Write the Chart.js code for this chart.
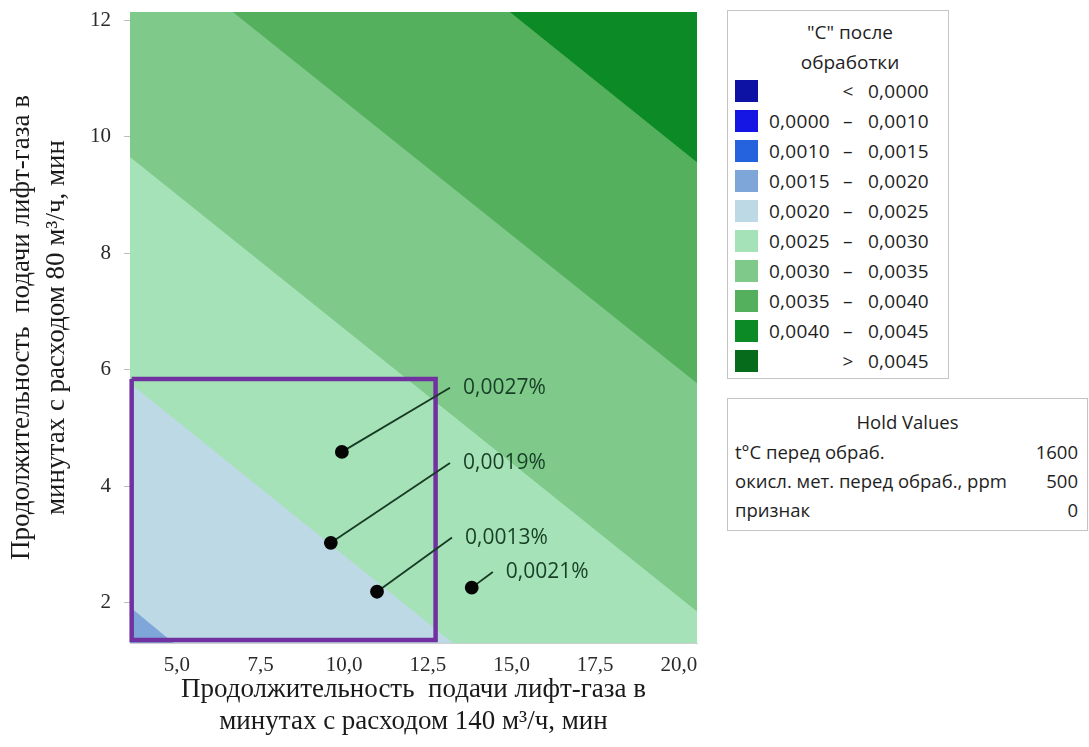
<!DOCTYPE html>
<html>
<head>
<meta charset="utf-8">
<script src="https://cdn.jsdelivr.net/npm/chart.js@4/dist/chart.umd.min.js"></script>
<style>
  body { margin: 0; background: #fff; }
  #wrap { position: relative; width: 1089px; height: 747px; overflow: hidden; }
  #plot { position: absolute; left: 0; top: 0; }
  .box { position: absolute; border: 1.5px solid #c4c4c4; background: #fff;
         font-family: "Open Sans", sans-serif; color: #1e1e1e; box-sizing: border-box; }
  #legend { left: 727px; top: 10px; width: 222px; height: 369px; }
  #legend .ttl { position: absolute; left: 56px; width: 132px; text-align: center; font-size: 19px; }
  #legend .row { position: absolute; left: 0; width: 100%; height: 30px; font-size: 19px; letter-spacing: 0.3px; }
  #legend .sw { position: absolute; left: 7px; top: 4px; width: 23px; height: 22px; }
  #legend .lo { position: absolute; left: 30px; width: 72px; text-align: right; line-height: 30px; }
  #legend .dash { position: absolute; left: 110px; width: 20px; text-align: center; line-height: 30px; }
  #legend .hi { position: absolute; left: 129px; width: 72px; text-align: right; line-height: 30px; }
  #hold { left: 727px; top: 398px; width: 361px; height: 133px; font-size: 18.5px; }
  #hold .ttl { position: absolute; left: 0; width: 100%; top: 10px; text-align: center; }
  #hold .row { position: absolute; left: 7px; right: 9px; height: 28px; line-height: 28px; }
  #hold .row span:last-child { float: right; }
</style>
</head>
<body>
<div id="wrap">
  <canvas id="plot" width="720" height="747"></canvas>
  <div id="legend" class="box"></div>
  <div id="hold" class="box"></div>
</div>
<script>
// axes
const xTicks = [5, 7.5, 10, 12.5, 15, 17.5, 20];
const xTickLabels = ['5,0', '7,5', '10,0', '12,5', '15,0', '17,5', '20,0'];
const yTicks = [2, 4, 6, 8, 10, 12];
const yTickLabels = ['2', '4', '6', '8', '10', '12'];
const xRange = [3.6, 20.54];
const yRange = [1.31, 12.14];

// contour band edges, [x, y]; each band fills upward from its edge
const edge15 = [[3.6, 1.31], [20.54, 1.31]];
const edge20 = [[3.6, 1.93], [4.9, 1.31], [20.54, 1.31]];
const edge25 = [[3.6, 5.77], [13.25, 1.31], [20.54, 1.31]];
const edge30 = [[3.6, 9.65], [20.54, 1.85]];
const edge35 = [[3.6, 12.14], [6.67, 12.14], [20.54, 5.77]];
const edge40 = [[3.6, 12.14], [14.95, 12.14], [20.54, 9.56]];
const bandEdges = [edge15, edge20, edge25, edge30, edge35, edge40];
const bandColors = ['#7ea6d8', '#bdd9e5', '#a6e2b7', '#7fca8b', '#55b05d', '#0b8a25'];

// legend
const legendLow = ['', '0,0000', '0,0010', '0,0015', '0,0020', '0,0025', '0,0030', '0,0035', '0,0040', ''];
const legendSep = ['<', '–', '–', '–', '–', '–', '–', '–', '–', '>'];
const legendHigh = ['0,0000', '0,0010', '0,0015', '0,0020', '0,0025', '0,0030', '0,0035', '0,0040', '0,0045', '0,0045'];
const legendColors = ['#0d11a4', '#1515e4', '#2462de', '#7ea6d8', '#bdd9e5', '#a6e2b7', '#7fca8b', '#55b05d', '#0b8a25', '#066c1b'];

const holdNames = ['t°C перед обраб.', 'окисл. мет. перед обраб., ppm', 'признак'];
const holdValues = ['1600', '500', '0'];

// marked experiments
const markPoints = [[9.93, 4.59], [9.6, 3.03], [10.98, 2.19], [13.81, 2.26]];
const leaderEnds = [[13.16, 5.69], [13.16, 4.4], [13.22, 3.12], [14.44, 2.53]];
const markLabels = ['0,0027%', '0,0019%', '0,0013%', '0,0021%'];

// highlighted region
const regionBox = [[3.65, 5.84], [12.73, 5.84], [12.73, 1.36], [3.65, 1.36], [3.65, 5.84]];

const pts = (arr) => arr.map(([x, y]) => ({ x, y }));

const datasets = [];
bandEdges.forEach((edge, i) => {
  datasets.push({
    data: pts(edge),
    showLine: true,
    fill: 'end',
    backgroundColor: bandColors[i],
    borderColor: 'rgba(0,0,0,0)',
    borderWidth: 0,
    pointRadius: 0,
    order: 20 - i,
  });
});
datasets.push({
  data: pts(regionBox),
  showLine: true,
  fill: false,
  borderColor: '#7131a1',
  borderWidth: 4.5,
  pointRadius: 0,
  clip: false,
  order: 5,
});
markPoints.forEach((p, i) => {
  datasets.push({
    data: pts([p, leaderEnds[i]]),
    showLine: true,
    fill: false,
    borderColor: '#173a24',
    borderWidth: 1.8,
    pointRadius: [6, 0],
    pointBackgroundColor: '#050505',
    pointBorderColor: '#050505',
    order: 1,
  });
});

const markText = {
  id: 'markText',
  afterDatasetsDraw(chart) {
    const { ctx, scales } = chart;
    ctx.save();
    ctx.font = '21px "Open Sans"';
    ctx.fillStyle = '#173f26';
    ctx.textBaseline = 'middle';
    leaderEnds.forEach(([x, y], i) => {
      ctx.fillText(markLabels[i], scales.x.getPixelForValue(x) + 13, scales.y.getPixelForValue(y));
    });
    ctx.restore();
  }
};

const serif = 'Liberation Serif';

new Chart(document.getElementById('plot'), {
  type: 'scatter',
  data: { datasets },
  plugins: [markText],
  options: {
    responsive: false,
    animation: false,
    layout: { padding: { left: 0, top: 12, right: 23, bottom: 0 } },
    plugins: { legend: { display: false }, tooltip: { enabled: false } },
    scales: {
      x: {
        type: 'linear',
        min: xRange[0],
        max: xRange[1],
        afterBuildTicks: (s) => { s.ticks = xTicks.map((v) => ({ value: v })); },
        afterFit: (s) => { s.height = 104; s.paddingLeft = 0; s.paddingRight = 0; },
        ticks: {
          padding: 10,
          color: '#2a2a2a',
          font: { family: serif, size: 21 },
          callback: (v, i) => xTickLabels[i],
        },
        grid: { drawOnChartArea: false, drawTicks: false },
        border: { color: '#cfcfcf' },
        title: {
          display: true,
          text: ['Продолжительность  подачи лифт-газа в', 'минутах с расходом 140 м³/ч, мин'],
          color: '#1a1a1a',
          font: { family: serif, size: 27, lineHeight: 1.19 },
          padding: { top: 0, bottom: 9 },
        },
      },
      y: {
        type: 'linear',
        min: yRange[0],
        max: yRange[1],
        afterBuildTicks: (s) => { s.ticks = yTicks.map((v) => ({ value: v })); },
        afterFit: (s) => { s.width = 130; s.paddingTop = 0; s.paddingBottom = 0; },
        ticks: {
          padding: 13,
          color: '#2a2a2a',
          font: { family: serif, size: 21 },
          callback: (v, i) => yTickLabels[i],
        },
        grid: { drawOnChartArea: false, tickLength: 6, color: '#bdbdbd' },
        border: { color: '#cfcfcf' },
        title: {
          display: true,
          text: ['Продолжительность  подачи лифт-газа в', 'минутах с расходом 80 м³/ч, мин'],
          color: '#1a1a1a',
          font: { family: serif, size: 27, lineHeight: 1.3 },
          padding: { top: 4, bottom: 0 },
        },
      },
    },
  },
});

// side boxes
const legend = document.getElementById('legend');
['"C" после', 'обработки'].forEach((t, i) => {
  const d = document.createElement('div');
  d.className = 'ttl';
  d.style.top = (8 + i * 30) + 'px';
  d.textContent = t;
  legend.appendChild(d);
});
legendHigh.forEach((hi, i) => {
  const row = document.createElement('div');
  row.className = 'row';
  row.style.top = (65 + i * 30) + 'px';
  row.innerHTML = '<div class="sw" style="background:' + legendColors[i] + '"></div>' +
    '<span class="lo">' + legendLow[i] + '</span>' +
    '<span class="dash">' + legendSep[i] + '</span>' +
    '<span class="hi">' + hi + '</span>';
  legend.appendChild(row);
});

const hold = document.getElementById('hold');
hold.innerHTML = '<div class="ttl">Hold Values</div>';
holdNames.forEach((n, i) => {
  const row = document.createElement('div');
  row.className = 'row';
  row.style.top = (39 + i * 29) + 'px';
  row.innerHTML = '<span>' + n + '</span><span>' + holdValues[i] + '</span>';
  hold.appendChild(row);
});
</script>
</body>
</html>
